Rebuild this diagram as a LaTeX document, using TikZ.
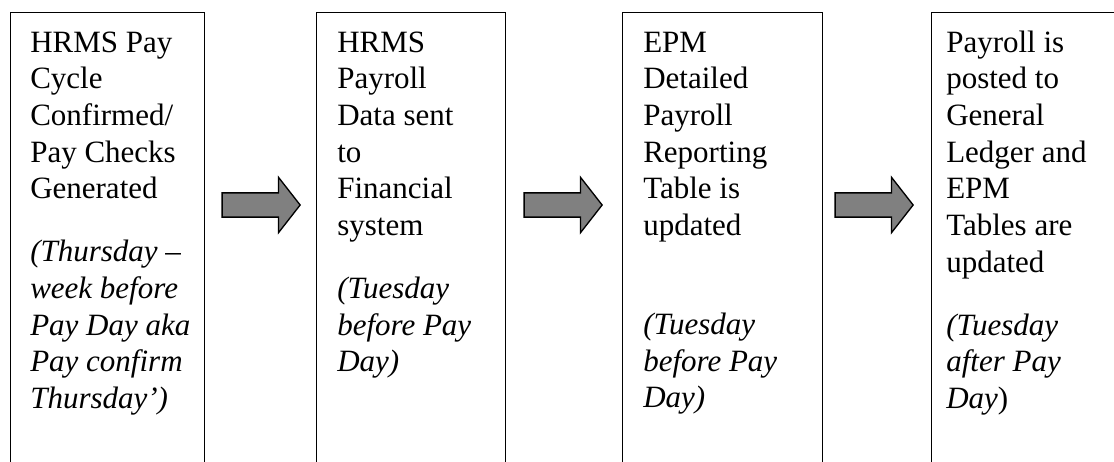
\documentclass[tikz,border=0pt]{standalone}
\usepackage{fontspec}
\setmainfont{Liberation Serif}
\usepackage{tikz}
\usepackage{xcolor}
\usetikzlibrary{shapes.arrows}
\usetikzlibrary{calc}
\newcommand{\firstline}{\rule{0pt}{20pt}}
\tikzset{
	stagebox/.style={
		draw,
		line width=1.1pt,
		anchor=north west,
		minimum height=351pt
	},
	stagetext/.style={
		anchor=north west,
		inner sep=0,
		align=left,
		font=\fontsize{23.25pt}{27.5pt}\selectfont
	},
	flowarrow/.style={
		draw,
		fill=gray,
		line width=1pt,
		anchor=tail,
		single arrow,
		single arrow head extend=11.6pt,
		single arrow tip angle=104,
		inner xsep=0pt,
		inner ysep=8.6pt,
		minimum height=58.5pt
	}
}

\begin{document}
\begin{tikzpicture}[x=0.75pt,y=-0.75pt]
	\useasboundingbox (0,0) rectangle (1114,461);
	\clip (0,0) rectangle (1114,461);
	
	% stages
	\node [stagebox,minimum width=145.5pt] (b1) at (10,12) {};
	\node [stagebox,minimum width=141.75pt] (b2) at (316,12) {};
	\node [stagebox,minimum width=150pt] (b3) at (622,12) {};
	\node [stagebox,minimum width=149.25pt] (b4) at (931,12) {};
	
	\node [stagetext] (t1) at ($(b1.north west)+(20,13.3)$) {\firstline HRMS Pay\\Cycle\\Confirmed/\\Pay Checks\\Generated\\[19.7pt]
		\textit{(Thursday –}\\\textit{week before}\\\textit{Pay Day aka}\\\textit{Pay confirm}\\\textit{Thursday’)}};
	\node [stagetext] (t2) at ($(b2.north west)+(21,13.3)$) {\firstline HRMS\\Payroll\\Data sent\\to\\Financial\\system\\[19.7pt]
		\textit{(Tuesday}\\\textit{before Pay}\\\textit{Day)}};
	\node [stagetext] (t3) at ($(b3.north west)+(21,13.3)$) {\firstline EPM\\Detailed\\Payroll\\Reporting\\Table is\\updated\\[46.7pt]
		\textit{(Tuesday}\\\textit{before Pay}\\\textit{Day)}};
	\node [stagetext] (t4) at ($(b4.north west)+(15,13.3)$) {\firstline Payroll is\\posted to\\General\\Ledger and\\EPM\\Tables are\\updated\\[19.7pt]
		\textit{(Tuesday}\\\textit{after Pay}\\\textit{Day})};
	
	% arrows between stages
	\node [flowarrow] (a1) at ($(b1.north east)+(16,193)$) {};
	\node [flowarrow] (a2) at ($(b2.north east)+(17,193)$) {};
	\node [flowarrow] (a3) at ($(b3.north east)+(11,193)$) {};
\end{tikzpicture}
\end{document}
